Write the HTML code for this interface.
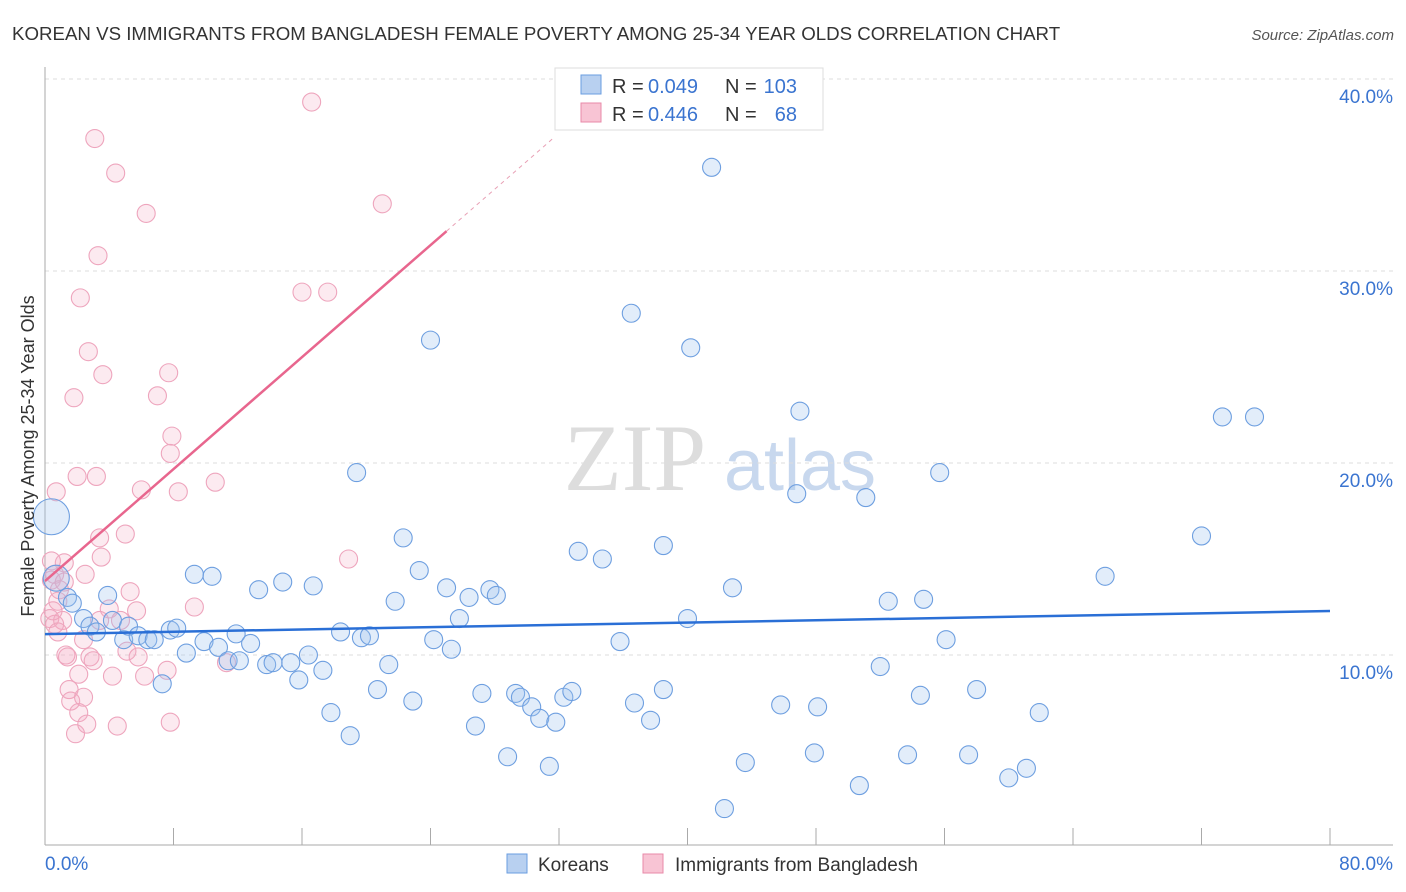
<!DOCTYPE html>
<html><head><meta charset="utf-8"><style>
body{margin:0;background:#fff;font-family:"Liberation Sans",sans-serif}
svg{display:block}
</style></head><body>
<svg id="chart" width="1406" height="892">
<text x="12" y="40" font-size="18.7" fill="#333">KOREAN VS IMMIGRANTS FROM BANGLADESH FEMALE POVERTY AMONG 25-34 YEAR OLDS CORRELATION CHART</text>
<text x="1394" y="40" font-size="15" fill="#555" font-style="italic" text-anchor="end">Source: ZipAtlas.com</text>
<g><text x="635" y="490" font-size="95" fill="#ddd" font-family="Liberation Serif" text-anchor="middle">ZIP</text><text x="800" y="490" font-size="72" fill="#c8d8ee" text-anchor="middle">atlas</text></g>
<g id="grid"></g>
<g id="axes"></g>
<g id="pts"></g>
<g id="lines"></g>
<g>
<rect x="555" y="68" width="268" height="62" fill="#fff" stroke="#ddd"/>
<rect x="581" y="75" width="20" height="19" fill="#b8d0f0" stroke="#6a9ee0"/>
<rect x="581" y="103" width="20" height="19" fill="#f8c4d4" stroke="#e88aa8"/>
<text x="612" y="93" font-size="20" fill="#333">R =</text>
<text x="648" y="93" font-size="20" fill="#3a74d0">0.049</text>
<text x="725" y="93" font-size="20" fill="#333">N =</text>
<text x="797" y="93" font-size="20" fill="#3a74d0" text-anchor="end">103</text>
<text x="612" y="121" font-size="20" fill="#333">R =</text>
<text x="648" y="121" font-size="20" fill="#3a74d0">0.446</text>
<text x="725" y="121" font-size="20" fill="#333">N =</text>
<text x="797" y="121" font-size="20" fill="#3a74d0" text-anchor="end">68</text>
</g>
<g>
<rect x="507" y="854" width="20" height="19" fill="#b8d0f0" stroke="#6a9ee0"/>
<text x="538" y="871" font-size="19" fill="#333">Koreans</text>
<rect x="643" y="854" width="20" height="19" fill="#f8c4d4" stroke="#e88aa8"/>
<text x="675" y="871" font-size="19" fill="#333">Immigrants from Bangladesh</text>
</g>
<text transform="translate(34,456) rotate(-90)" font-size="18" fill="#333" text-anchor="middle">Female Poverty Among 25-34 Year Olds</text>
</svg>
<script>
const blueX=[0.4,0.7,1.4,1.7,2.4,2.8,3.2,3.9,4.2,4.9,5.2,5.8,6.4,6.8,7.3,7.8,8.2,8.8,9.3,9.9,10.4,10.8,11.4,11.9,12.1,12.8,13.3,13.8,14.2,14.8,15.3,15.8,16.4,16.7,17.3,17.8,18.4,19.0,19.4,19.7,20.2,20.7,21.4,21.8,22.3,22.9,23.3,24.0,24.2,25.0,25.3,25.8,26.4,26.8,27.2,27.7,28.1,28.8,29.3,29.6,30.3,30.8,31.4,31.8,32.3,32.8,33.2,34.7,35.8,36.5,36.7,37.7,38.5,38.5,40.0,40.2,41.5,42.3,42.8,43.6,45.8,47.0,47.9,48.1,46.8,50.7,51.1,52.0,52.5,53.7,54.5,54.7,55.7,56.1,57.5,58.0,60.0,61.1,61.9,66.0,72.0,73.3,75.3];
const blueY=[17.2,14.0,13.0,12.7,11.9,11.5,11.2,13.1,11.8,10.8,11.5,11.0,10.8,10.8,8.5,11.3,11.4,10.1,14.2,10.7,14.1,10.4,9.7,11.1,9.7,10.6,13.4,9.5,9.6,13.8,9.6,8.7,10.0,13.6,9.2,7.0,11.2,5.8,19.5,10.9,11.0,8.2,9.5,12.8,16.1,7.6,14.4,26.4,10.8,13.5,10.3,11.9,13.0,6.3,8.0,13.4,13.1,4.7,8.0,7.8,7.3,6.7,4.2,6.5,7.8,8.1,15.4,15.0,10.7,27.8,7.5,6.6,8.2,15.7,11.9,26.0,35.4,2.0,13.5,4.4,7.4,22.7,4.9,7.3,18.4,3.2,18.2,9.4,12.8,4.8,7.9,12.9,19.5,10.8,4.8,8.2,3.6,4.1,7.0,14.1,16.2,22.4,22.4];
const pinkX=[16.6,3.1,4.4,6.3,3.3,21.0,2.2,16.0,17.6,2.7,3.6,7.7,1.8,7.0,7.9,7.8,2.0,3.2,10.6,0.7,6.0,8.3,5.0,3.4,18.9,1.2,3.5,0.6,2.5,5.3,0.4,0.9,0.8,4.0,5.7,9.3,0.3,1.1,0.6,1.4,2.4,1.3,2.8,3.0,5.1,5.8,11.3,7.6,2.1,4.2,6.2,1.5,1.6,2.4,2.1,2.6,1.9,4.5,7.8,0.5,0.8,4.7,3.4,0.4,1.2];
const pinkY=[38.8,36.9,35.1,33.0,30.8,33.5,28.6,28.9,28.9,25.8,24.6,24.7,23.4,23.5,21.4,20.5,19.3,19.3,19.0,18.5,18.6,18.5,16.3,16.1,15.0,14.8,15.1,14.2,14.2,13.3,13.9,13.4,12.8,12.4,12.3,12.5,11.9,11.8,11.6,9.9,10.8,10.0,9.9,9.7,10.2,9.9,9.6,9.2,9.0,8.9,8.9,8.2,7.6,7.8,7.0,6.4,5.9,6.3,6.5,12.3,11.2,11.8,11.8,14.9,13.8];
const yTicks=[10,20,30,40];
const yTickLabels=["10.0%","20.0%","30.0%","40.0%"];
const blueTrend=[11.09,12.29];
const pinkTrend=[13.85,0.729];

const NS="http://www.w3.org/2000/svg";
const sx=v=>45+v/80*1285, sy=v=>847-v*19.2;
function mk(tag,attrs,parent){const e=document.createElementNS(NS,tag);for(const k in attrs)e.setAttribute(k,attrs[k]);document.getElementById(parent).appendChild(e);return e;}
yTicks.forEach((t,i)=>{
 let l=mk('line',{x1:45,x2:1393,y1:sy(t),y2:sy(t),stroke:'#ddd','stroke-dasharray':'4,4'},'grid');
 
 
 let tx=mk('text',{x:1393,y:sy(t)+24,'font-size':19,fill:'#3a74d0','text-anchor':'end'},'grid');tx.textContent=yTickLabels[i];
 
 
});
mk('line',{x1:45,x2:45,y1:67,y2:845,stroke:'#aaa'},'axes');
mk('line',{x1:45,x2:1393,y1:845,y2:845,stroke:'#aaa'},'axes');
for(let i=0;i<=10;i++){const x=sx(i*8);let t=mk('line',{x1:x,x2:x,y1:828,y2:845,stroke:'#aaa'},'axes');
 
 }
let x0=mk('text',{x:45,y:870,'font-size':19,fill:'#3a74d0'},'axes');x0.textContent='0.0%';


let x1=mk('text',{x:1393,y:870,'font-size':19,fill:'#3a74d0','text-anchor':'end'},'axes');x1.textContent='80.0%';


pinkX.forEach((v,i)=>{let c=mk('circle',{cx:sx(v),cy:sy(pinkY[i]),r:9,fill:'rgba(245,170,195,0.25)',stroke:'#eea5bd','stroke-width':1.1},'pts');
 
 });
blueX.forEach((v,i)=>{const r=i==0?18:(i==1?13:9);let c=mk('circle',{cx:sx(v),cy:sy(blueY[i]),r:r,fill:'rgba(160,195,240,0.3)',stroke:'#6e9fe0','stroke-width':1.1},'pts');
 
 });
let bl=mk('line',{x1:sx(0),y1:sy(blueTrend[0]),x2:sx(80),y2:sy(blueTrend[1]),stroke:'#2a6fd6','stroke-width':2.5},'lines');


let pl=mk('line',{x1:sx(0),y1:sy(pinkTrend[0]),x2:sx(25),y2:sy(pinkTrend[0]+pinkTrend[1]*25),stroke:'#e8668e','stroke-width':2.5},'lines');


let pd=mk('line',{x1:sx(25),y1:sy(pinkTrend[0]+pinkTrend[1]*25),x2:sx(31.7),y2:sy(pinkTrend[0]+pinkTrend[1]*31.7),stroke:'#e8a0b5','stroke-width':1,'stroke-dasharray':'4,4'},'lines');


</script>
</body></html>
